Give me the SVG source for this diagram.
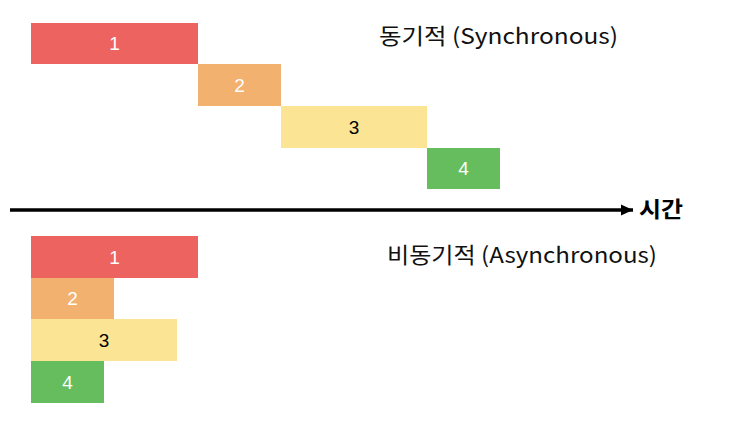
<svg xmlns="http://www.w3.org/2000/svg" width="750" height="425" viewBox="0 0 750 425">
<style>
.r{fill:#EC6360}.o{fill:#F2B16E}.y{fill:#FBE595}.g{fill:#66BD5E}
.n{font-family:"Liberation Sans",Arial,sans-serif;font-size:19px;text-anchor:middle;dominant-baseline:central}
.w{fill:#ffffff}.k{fill:#000000}
.t{font-family:"Noto Sans CJK KR","Noto Sans",sans-serif;font-size:22px;fill:#111}
</style>
<defs>
<marker id="ah" markerWidth="4" markerHeight="4" refX="3.5" refY="2" orient="auto" markerUnits="strokeWidth">
<path d="M0,0.4 L3.5,2 L0,3.6 Z" fill="#000"/>
</marker>
</defs>
<rect width="750" height="425" fill="#fff"/>
<g id="sync-1"><rect class="r" x="31" y="23" width="167" height="41"/><text class="n w" x="114.5" y="43.5">1</text></g>
<g id="sync-2"><rect class="o" x="198" y="64" width="83" height="42"/><text class="n w" x="239.5" y="85">2</text></g>
<g id="sync-3"><rect class="y" x="281" y="106" width="146" height="42"/><text class="n k" x="354" y="127">3</text></g>
<g id="sync-4"><rect class="g" x="427" y="148" width="73" height="41"/><text class="n w" x="463.5" y="168.5">4</text></g>
<g id="async-1"><rect class="r" x="31" y="236" width="167" height="42"/><text class="n w" x="114.5" y="257">1</text></g>
<g id="async-2"><rect class="o" x="31" y="278" width="83" height="41"/><text class="n w" x="72.5" y="298.5">2</text></g>
<g id="async-3"><rect class="y" x="31" y="319" width="146" height="42"/><text class="n k" x="104" y="340">3</text></g>
<g id="async-4"><rect class="g" x="31" y="361" width="73" height="42"/><text class="n w" x="67.5" y="382">4</text></g>
<g id="connectors">
<line x1="10" y1="210" x2="633" y2="210" stroke="#000" stroke-width="3.5" marker-end="url(#ah)"/>
</g>
<g id="labels">
<text class="t" x="379" y="44" textLength="239" lengthAdjust="spacingAndGlyphs">동기적 (Synchronous)</text>
<text class="t" x="387" y="263" textLength="270" lengthAdjust="spacingAndGlyphs">비동기적 (Asynchronous)</text>
<text x="639" y="217" textLength="44" lengthAdjust="spacingAndGlyphs" style="font-family:'Noto Sans CJK KR',sans-serif;font-size:22px;font-weight:bold;fill:#000">시간</text>
</g>
</svg>
